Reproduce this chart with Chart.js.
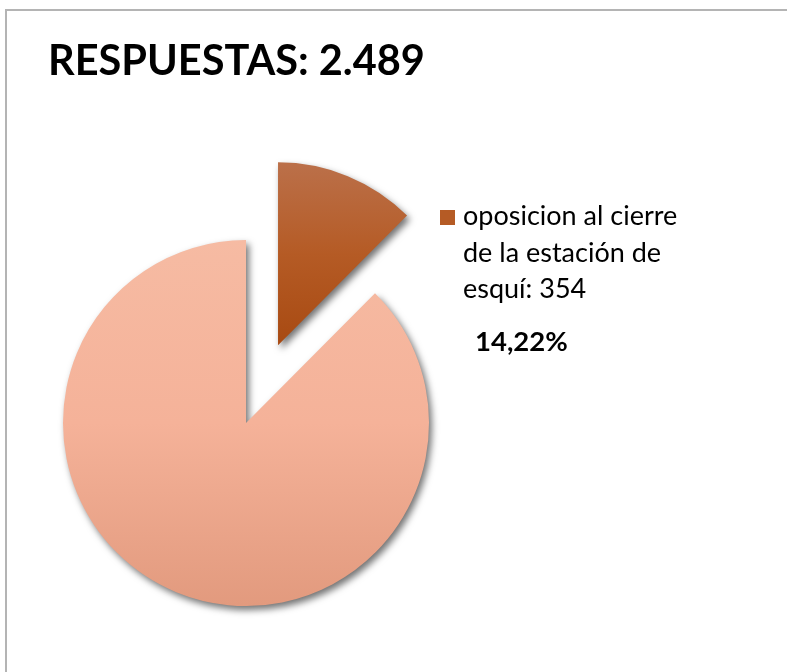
<!DOCTYPE html>
<html>
<head>
<meta charset="utf-8">
<script src="https://cdn.jsdelivr.net/npm/chart.js@4"></script>
<style>
    html, body { margin: 0; padding: 0; background: #fff; }
    #wrap { position: relative; width: 787px; height: 672px; overflow: hidden; }
    #frame {
        position: absolute; left: 5px; top: 9px; width: 800px; height: 700px;
        border-left: 2px solid #b4b4b4; border-top: 2px solid #b4b4b4;
    }
    #pieChart { position: absolute; left: 0; top: 0; }
</style>
</head>
<body>
<div id="wrap">
    <div id="frame"></div>
    <canvas id="pieChart" width="787" height="672"></canvas>
</div>
<script>
// chart data
const titleText    = 'RESPUESTAS: 2.489';
const categories   = ['oposicion al cierre de la estación de esquí: 354', 'RESPUESTAS'];
const values       = [354, 2489];
const legendLines  = ['oposicion al cierre', 'de la estación de', 'esquí: 354'];
const percentLabel = '14,22%';

// top / middle / bottom gradient colours per slice
const TOP_COLORS    = ['#bb704a', '#f6bba3'];
const MID_COLORS    = ['#b55b25', '#f5b299'];
const BOTTOM_COLORS = ['#a84a12', '#e29a7e'];
// how far each slice is pulled out of the pie, px
const EXPLODE       = [84, 0];
const PIE_RADIUS    = 183;
const FONT = 'Lato, "Open Sans", sans-serif';

function sliceGradient(context) {
    const chart = context.chart;
    const area = chart.chartArea;
    const i = context.dataIndex;
    if (!area) return MID_COLORS[i];
    const cy = (area.top + area.bottom) / 2;
    const r = PIE_RADIUS;
    const y0 = i === 0 ? cy - r - 78 : cy - r;
    const y1 = i === 0 ? cy - 78 : cy + r;
    const g = chart.ctx.createLinearGradient(0, y0, 0, y1);
    g.addColorStop(0, TOP_COLORS[i]);
    g.addColorStop(0.5, MID_COLORS[i]);
    g.addColorStop(1, BOTTOM_COLORS[i]);
    return g;
}

// move exploded slices along their bisector without changing their radius
const explodePlugin = {
    id: 'explodeSlices',
    afterDatasetsUpdate(chart) {
        const meta = chart.getDatasetMeta(0);
        meta.data.forEach((arc, i) => {
            const d = EXPLODE[i];
            if (!d) return;
            const mid = (arc.startAngle + arc.endAngle) / 2;
            arc.x += Math.cos(mid) * d;
            arc.y += Math.sin(mid) * d;
        });
    }
};

// soft drop shadow under the slices
const shadowPlugin = {
    id: 'sliceShadow',
    beforeDatasetsDraw(chart) {
        const ctx = chart.ctx;
        ctx.save();
        ctx.shadowColor = 'rgba(0, 0, 0, 0.55)';
        ctx.shadowBlur = 7;
        ctx.shadowOffsetX = 3;
        ctx.shadowOffsetY = 4;
    },
    afterDatasetsDraw(chart) {
        chart.ctx.restore();
    }
};

// title, one-entry legend and percentage
const textPlugin = {
    id: 'sideText',
    afterDraw(chart) {
        const ctx = chart.ctx;
        ctx.save();
        ctx.textBaseline = 'alphabetic';
        ctx.textAlign = 'left';
        ctx.fillStyle = '#000';

        ctx.font = 'bold 41.5px ' + FONT;
        ctx.fillText(titleText, 48, 75);

        ctx.fillStyle = MID_COLORS[0];
        ctx.fillRect(440, 210, 15, 15);

        ctx.fillStyle = '#000';
        ctx.font = '27px ' + FONT;
        legendLines.forEach((line, i) => {
            ctx.fillText(line, 463, 225 + i * 36.5);
        });

        ctx.font = 'bold 27.5px ' + FONT;
        ctx.fillText(percentLabel, 475, 351);
        ctx.restore();
    }
};

new Chart(document.getElementById('pieChart'), {
    type: 'pie',
    data: {
        labels: categories,
        datasets: [{
            data: values,
            backgroundColor: sliceGradient,
            borderWidth: 0,
            hoverOffset: 0,
        }],
    },
    options: {
        responsive: false,
        animation: false,
        radius: PIE_RADIUS,
        layout: {
            padding: { left: 21, top: 198, right: 316, bottom: 24 },
        },
        plugins: {
            legend: { display: false },
            title: { display: false },
            tooltip: { enabled: false },
        },
    },
    plugins: [explodePlugin, shadowPlugin, textPlugin],
});
</script>
</body>
</html>
